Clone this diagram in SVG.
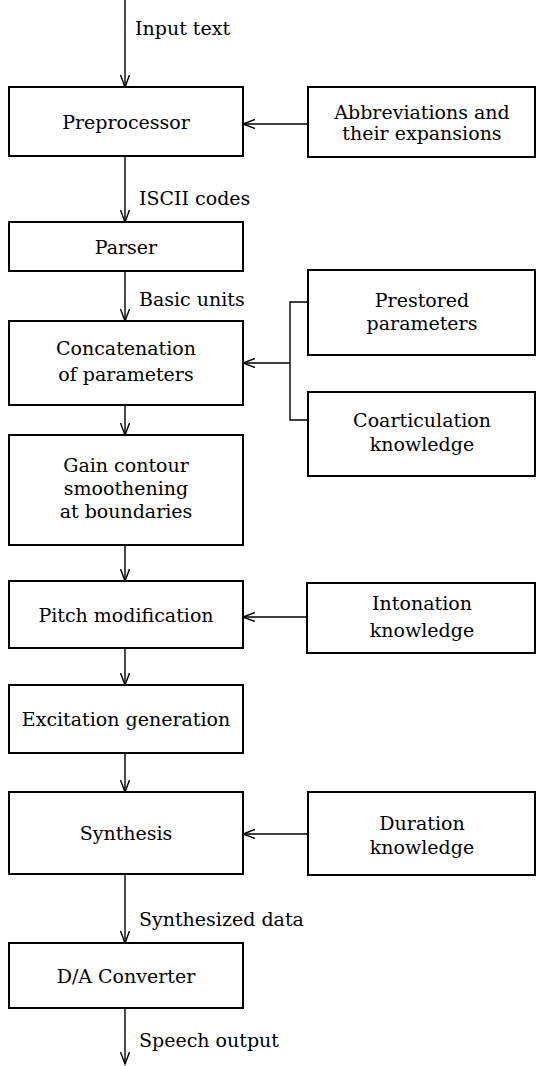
<svg xmlns="http://www.w3.org/2000/svg" width="537" height="1066" viewBox="0 0 537 1066">
<style>
.box{fill:#fff;stroke:#000;stroke-width:2}
.t{font-family:"DejaVu Serif","Liberation Serif",serif;font-size:19px;fill:#000;text-anchor:middle}
.l{font-family:"DejaVu Serif","Liberation Serif",serif;font-size:19px;fill:#000;text-anchor:start}
.c{fill:none;stroke:#000;stroke-width:1.4}
</style>
<defs>
<marker id="ah" markerUnits="userSpaceOnUse" markerWidth="14" markerHeight="12" refX="12" refY="5" orient="auto">
<path d="M0,0.5 L12,5 L0,9.5" fill="none" stroke="#000" stroke-width="1.4"/>
</marker>
</defs>
<rect width="537" height="1066" fill="#fff"/>
<g id="connectors">
<line class="c" x1="125" y1="0" x2="125" y2="87" marker-end="url(#ah)"/>
<line class="c" x1="308" y1="124" x2="243" y2="124" marker-end="url(#ah)"/>
<line class="c" x1="125" y1="156" x2="125" y2="222" marker-end="url(#ah)"/>
<line class="c" x1="125" y1="271" x2="125" y2="321" marker-end="url(#ah)"/>
<path class="c" d="M308,302 H290 V420 H308"/>
<line class="c" x1="290" y1="363" x2="243" y2="363" marker-end="url(#ah)"/>
<line class="c" x1="125" y1="405" x2="125" y2="435" marker-end="url(#ah)"/>
<line class="c" x1="125" y1="545" x2="125" y2="581" marker-end="url(#ah)"/>
<line class="c" x1="307" y1="617" x2="243" y2="617" marker-end="url(#ah)"/>
<line class="c" x1="125" y1="648" x2="125" y2="685" marker-end="url(#ah)"/>
<line class="c" x1="125" y1="753" x2="125" y2="792" marker-end="url(#ah)"/>
<line class="c" x1="308" y1="834" x2="243" y2="834" marker-end="url(#ah)"/>
<line class="c" x1="125" y1="874" x2="125" y2="943" marker-end="url(#ah)"/>
<line class="c" x1="125" y1="1008" x2="125" y2="1064" marker-end="url(#ah)"/>
<text class="l" x="135" y="35">Input text</text>
<text class="l" x="139" y="205">ISCII codes</text>
<text class="l" x="139" y="306">Basic units</text>
<text class="l" x="139" y="926">Synthesized data</text>
<text class="l" x="139" y="1047">Speech output</text>
</g>
<g id="preprocessor"><rect class="box" x="9" y="87" width="234" height="69"/><text class="t" x="126" y="129">Preprocessor</text></g>
<g id="abbreviations"><rect class="box" x="308" y="87" width="227" height="70"/><text class="t" x="422" y="119">Abbreviations and</text><text class="t" x="422" y="140">their expansions</text></g>
<g id="parser"><rect class="box" x="9" y="222" width="234" height="49"/><text class="t" x="126" y="254">Parser</text></g>
<g id="concatenation"><rect class="box" x="9" y="321" width="234" height="84"/><text class="t" x="126" y="355">Concatenation</text><text class="t" x="126" y="381">of parameters</text></g>
<g id="prestored"><rect class="box" x="308" y="270" width="227" height="85"/><text class="t" x="422" y="307">Prestored</text><text class="t" x="422" y="330">parameters</text></g>
<g id="coarticulation"><rect class="box" x="308" y="392" width="227" height="84"/><text class="t" x="422" y="427">Coarticulation</text><text class="t" x="422" y="451">knowledge</text></g>
<g id="gain"><rect class="box" x="9" y="435" width="234" height="110"/><text class="t" x="126" y="472">Gain contour</text><text class="t" x="126" y="495">smoothening</text><text class="t" x="126" y="518">at boundaries</text></g>
<g id="pitch"><rect class="box" x="9" y="581" width="234" height="67"/><text class="t" x="126" y="622">Pitch modification</text></g>
<g id="intonation"><rect class="box" x="307" y="583" width="228" height="70"/><text class="t" x="422" y="610">Intonation</text><text class="t" x="422" y="637">knowledge</text></g>
<g id="excitation"><rect class="box" x="9" y="685" width="234" height="68"/><text class="t" x="126" y="726">Excitation generation</text></g>
<g id="synthesis"><rect class="box" x="9" y="792" width="234" height="82"/><text class="t" x="126" y="840">Synthesis</text></g>
<g id="duration"><rect class="box" x="308" y="792" width="227" height="83"/><text class="t" x="422" y="830">Duration</text><text class="t" x="422" y="854">knowledge</text></g>
<g id="da"><rect class="box" x="9" y="943" width="234" height="65"/><text class="t" x="126" y="983">D/A Converter</text></g>
</svg>
